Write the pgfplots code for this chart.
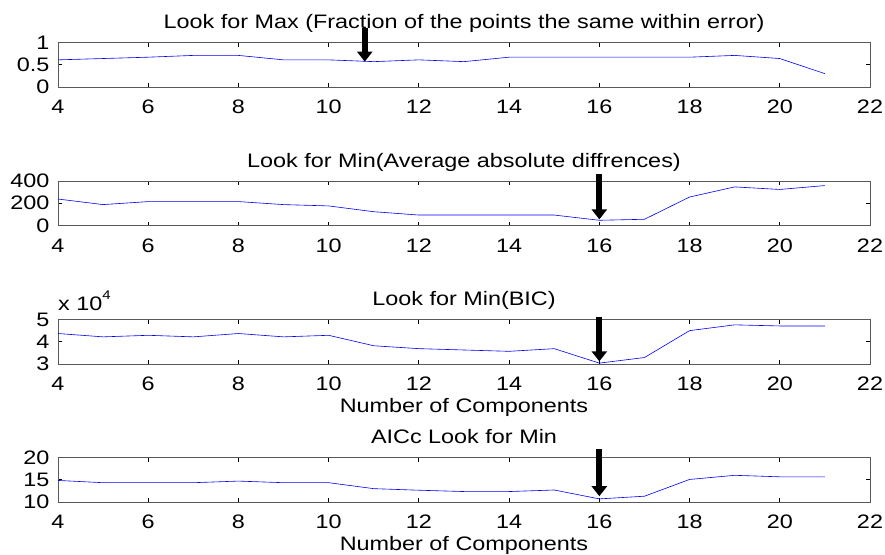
\documentclass[border=0pt]{standalone}
\usepackage{fontspec}
\setmainfont{Liberation Sans}[FakeStretch=1.2]
\usepackage{pgfplots}
\pgfplotsset{compat=1.18}
\usetikzlibrary{arrows.meta}
\definecolor{mlblue}{RGB}{128,128,255}
\pgfplotsset{every axis title shift=0pt}
\pgfplotsset{panel/.style={
  width=812bp,height=44.5bp,scale only axis,
  xmin=4,xmax=22,xtick={4,6,...,22},
  /pgf/number format/assume math mode=true,
  axis line style={black!65,line width=0.6bp},
  tick style={black,line width=0.8bp},
  major tick length=4bp,
  tick align=inside,
  clip=false,
  title style={at={(0.5,1)},anchor=base,yshift=14bp,inner sep=0pt},
  xticklabel style={anchor=base,yshift=-26.5bp,inner sep=0pt},
  yticklabel style={xshift=-2bp},
  xlabel style={at={(axis description cs:0.5,0)},anchor=base,yshift=-48bp,inner sep=0pt},
  every axis plot/.append style={mlblue,line width=0.6bp,no markers},
}}
\tikzset{bigarrow/.style={-{Triangle[width=15bp,length=10bp]},line width=6bp,black}}
\begin{document}
\fontsize{19.5bp}{22bp}\selectfont
\begin{tikzpicture}
\path (-58bp,87bp) rectangle (827bp,-466bp);
% Panel 1
\begin{axis}[panel,at={(0,0)},ymin=0,ymax=1,ytick={0,0.5,1},
  title={Look for Max (Fraction of the points the same within error)}]
\addplot coordinates {(4,0.61)(5,0.64)(6,0.67)(7,0.71)(8,0.71)(9,0.61)(10,0.61)(11,0.57)(12,0.61)(13,0.57)(14,0.67)(15,0.67)(16,0.67)(17,0.67)(18,0.67)(19,0.71)(20,0.64)(21,0.30)};
\draw[bigarrow] (axis cs:10.8,1.33) -- (axis cs:10.8,0.57);
\end{axis}
% Panel 2
\begin{axis}[panel,at={(0,-138.5bp)},ymin=0,ymax=400,ytick={0,200,400},
  title={Look for Min(Average absolute diffrences)}]
\addplot coordinates {(4,238)(5,188)(6,215)(7,215)(8,215)(9,188)(10,176)(11,124)(12,94)(13,94)(14,94)(15,94)(16,47)(17,56)(18,256)(19,347)(20,324)(21,359)};
\draw[bigarrow] (axis cs:16,462) -- (axis cs:16,55);
\end{axis}
% Panel 3
\begin{axis}[panel,at={(0,-277bp)},ymin=30000,ymax=50000,ytick={30000,40000,50000},
  yticklabels={3,4,5},scaled y ticks=false,
  title={Look for Min(BIC)},xlabel={Number of Components}]
\addplot coordinates {(4,43700)(5,42200)(6,42900)(7,42200)(8,43700)(9,42200)(10,42900)(11,38200)(12,36900)(13,36300)(14,35700)(15,36900)(16,30400)(17,32900)(18,45000)(19,47600)(20,47100)(21,47100)};
\draw[bigarrow] (axis cs:16,51200) -- (axis cs:16,31200);
\node[anchor=base west,inner sep=0pt] at ([yshift=9bp]rel axis cs:0,1) {x 10\raisebox{1.1ex}{\fontsize{12.5bp}{14bp}\selectfont 4}};
\end{axis}
% Panel 4
\begin{axis}[panel,at={(0,-415bp)},ymin=10,ymax=20,ytick={10,15,20},
  title={AICc Look for Min},xlabel={Number of Components}]
\addplot coordinates {(4,14.85)(5,14.34)(6,14.34)(7,14.34)(8,14.7)(9,14.34)(10,14.34)(11,13.0)(12,12.65)(13,12.35)(14,12.35)(15,12.7)(16,10.7)(17,11.3)(18,15.07)(19,16.0)(20,15.66)(21,15.66)};
\draw[bigarrow] (axis cs:16,21.8) -- (axis cs:16,11.3);
\end{axis}
\end{tikzpicture}
\end{document}
